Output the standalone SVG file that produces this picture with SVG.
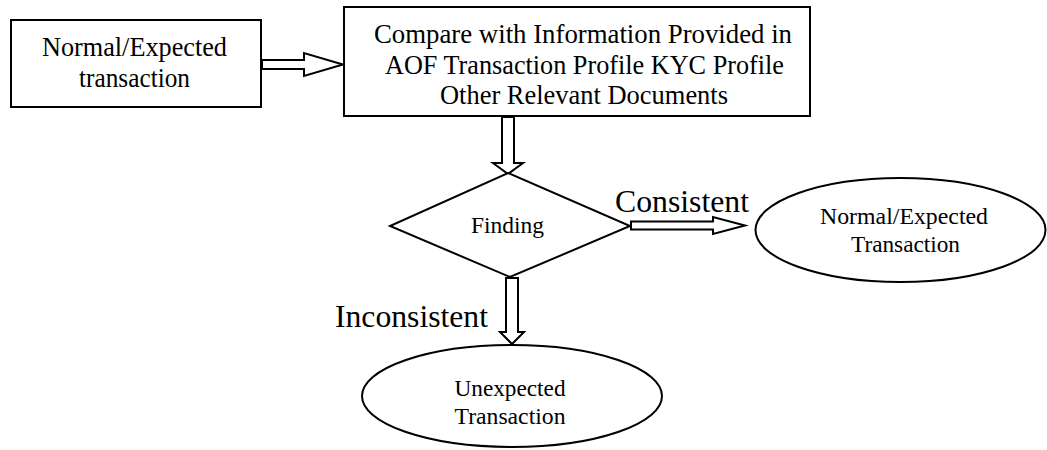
<svg xmlns="http://www.w3.org/2000/svg" width="1047" height="450" viewBox="0 0 1047 450">
<style>
.shape{fill:#fff;stroke:#000;stroke-width:2}
.arrow{fill:#fff;stroke:#000;stroke-width:2;stroke-linejoin:miter}
text{font-family:"Liberation Serif","Times New Roman",serif;fill:#000;text-anchor:middle}
.big{font-size:27px}
.mid{font-size:24px}
.lbl{font-size:31px;text-anchor:start}
</style>
<rect width="1047" height="450" fill="#fff"/>
<g id="connectors">
<polygon class="arrow" points="262,60 304,60 304,53 343,64.5 304,76 304,69 262,69"/>
<polygon class="arrow" points="502,117 514,117 514,163 523,163 508,174 493,163 502,163"/>
<polygon class="arrow" points="631,221.5 713,221.5 713,217 745,225.5 713,234 713,229.5 631,229.5"/>
<polygon class="arrow" points="506,278 518,278 518,332 524,332 512,344 500,332 506,332"/>
<text class="lbl" x="615" y="212" textLength="134" lengthAdjust="spacingAndGlyphs">Consistent</text>
<text class="lbl" x="335" y="327" textLength="153" lengthAdjust="spacingAndGlyphs">Inconsistent</text>
</g>
<g id="node-start">
<rect class="shape" x="11" y="20" width="250" height="87"/>
<text class="big" x="134.5" y="56" textLength="185" lengthAdjust="spacingAndGlyphs">Normal/Expected</text>
<text class="big" x="134.5" y="87" textLength="111" lengthAdjust="spacingAndGlyphs">transaction</text>
</g>
<g id="node-compare">
<rect class="shape" x="344" y="7" width="466" height="109"/>
<text class="big" x="583" y="43" textLength="418" lengthAdjust="spacingAndGlyphs">Compare with Information Provided in</text>
<text class="big" x="584.5" y="74" textLength="399" lengthAdjust="spacingAndGlyphs">AOF Transaction Profile KYC Profile</text>
<text class="big" x="584" y="104" textLength="288" lengthAdjust="spacingAndGlyphs">Other Relevant Documents</text>
</g>
<g id="node-finding">
<polygon class="shape" points="508,173 630,226 510,277 390,226"/>
<text class="mid" x="507.5" y="233" textLength="73" lengthAdjust="spacingAndGlyphs">Finding</text>
</g>
<g id="node-normal">
<ellipse class="shape" cx="900.5" cy="230" rx="145" ry="52"/>
<text class="mid" x="904" y="224" textLength="168" lengthAdjust="spacingAndGlyphs">Normal/Expected</text>
<text class="mid" x="905.5" y="252" textLength="109" lengthAdjust="spacingAndGlyphs">Transaction</text>
</g>
<g id="node-unexpected">
<ellipse class="shape" cx="512" cy="396" rx="150" ry="51"/>
<text class="mid" x="510" y="396" textLength="111" lengthAdjust="spacingAndGlyphs">Unexpected</text>
<text class="mid" x="510" y="424" textLength="111" lengthAdjust="spacingAndGlyphs">Transaction</text>
</g>
</svg>
